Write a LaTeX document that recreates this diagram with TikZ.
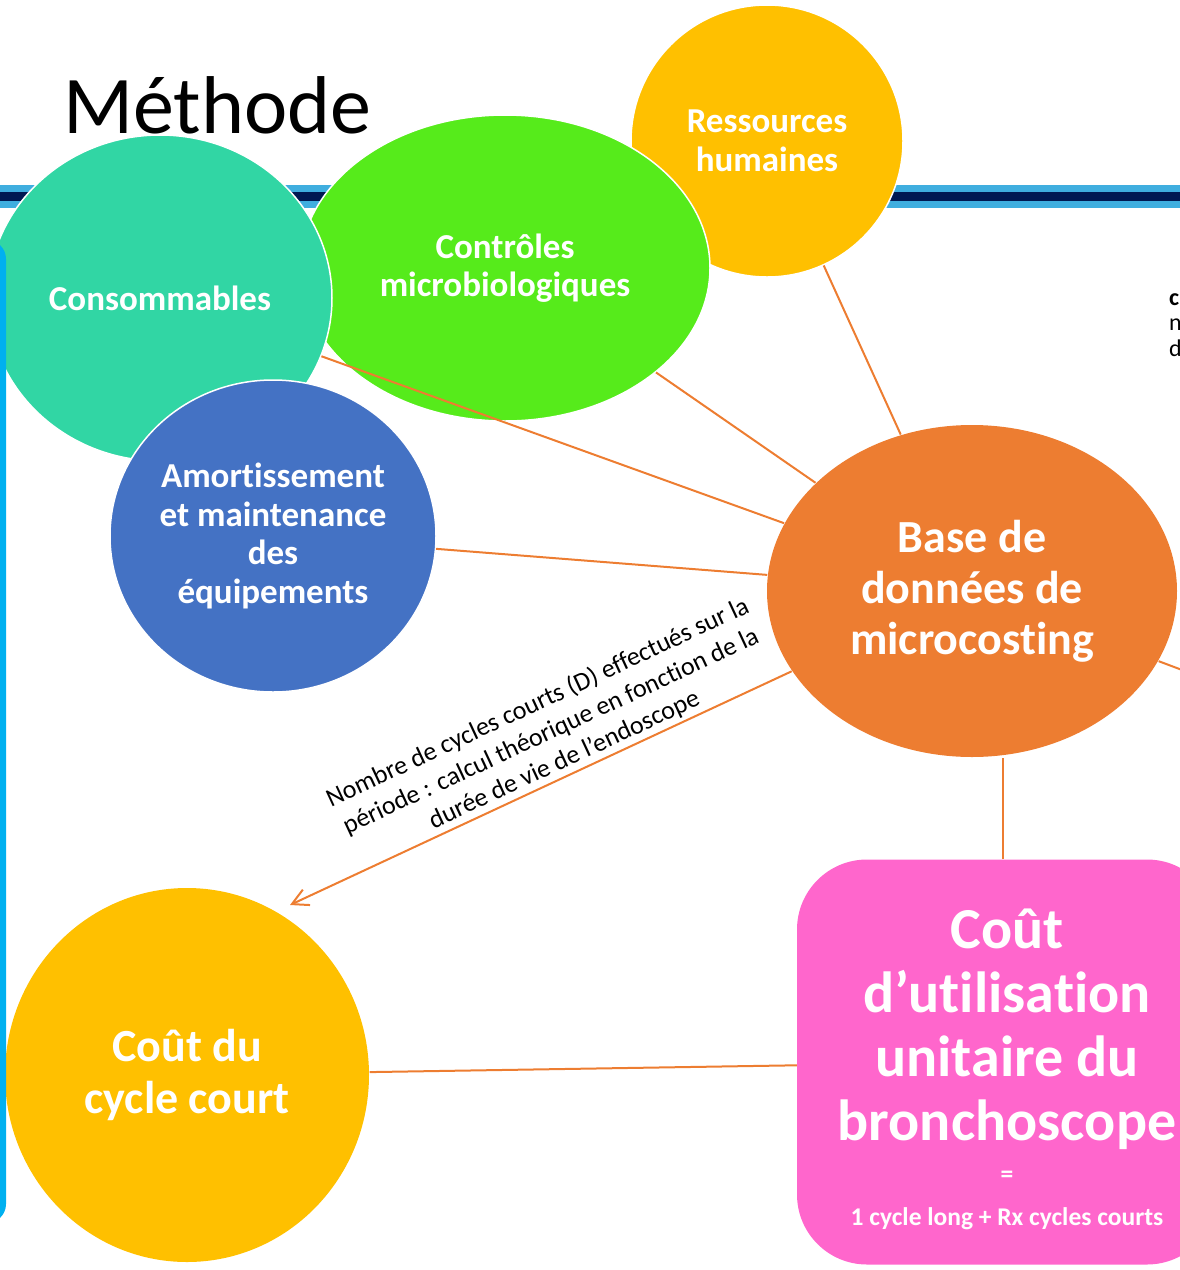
\documentclass[tikz,border=0pt]{standalone}
\usepackage{fontspec}
\setmainfont{Carlito}[Ligatures={TeX,NoCommon,NoContextual,NoRequired},RawFeature={-calt}]
\usetikzlibrary{shapes.geometric,arrows.meta}

\definecolor{turquoise}{HTML}{31D6A4}
\definecolor{vert}{HTML}{56EB1B}
\definecolor{jaune}{HTML}{FFC000}
\definecolor{bleu}{HTML}{4472C4}
\definecolor{orangeB}{HTML}{ED7D31}
\definecolor{rose}{HTML}{FF66CC}
\definecolor{bleuclair}{HTML}{3FAEDF}
\definecolor{marine}{HTML}{001952}
\definecolor{bleuvif}{HTML}{00B0F0}

\begin{document}
\begin{tikzpicture}[x=1pt,y=-1pt,
    bulle/.style={ellipse,draw=white,line width=1.5pt,inner sep=0pt,text=white,align=center,
      font=\bfseries\fontsize{35}{38.5}\selectfont},
    lien/.style={draw=orangeB,line width=2pt}]

    \useasboundingbox (0,0) rectangle (1180,1270);
    \clip (0,0) rectangle (1180,1270);

    % bandeau
    \fill[bleuclair] (0,185) rectangle (1180,208);
    \fill[marine] (0,192) rectangle (1180,201);

    \node[anchor=base west,inner sep=0pt,font=\fontsize{82}{90}\selectfont] (titre) at (63,133) {Méthode};

    \node[bulle,fill=jaune,minimum width=272pt,minimum height=272pt] (rh) at (767,141) {Ressources\\humaines};
    \node[bulle,fill=vert,minimum width=410pt,minimum height=306pt] (ctrl) at (505,268) {Contrôles\\microbiologiques};
    \node[bulle,fill=turquoise,minimum width=344pt,minimum height=326pt] (conso) at (160,298) {Consommables};
    \node[bulle,fill=bleu,minimum width=326pt,minimum height=312pt] (amort) at (273,536) {Amortissement\\et maintenance\\des\\équipements};

    \node[bulle,draw=none,fill=orangeB,minimum width=410pt,minimum height=332pt,
      font=\bfseries\fontsize{46}{51}\selectfont] (bdd) at (972,591) {Base de\\données de\\microcosting};
    \node[bulle,draw=none,fill=jaune,minimum width=364pt,minimum height=374pt,
      font=\bfseries\fontsize{46}{52}\selectfont] (court) at (187,1075) {Coût du\\cycle court};
    \node[rectangle,rounded corners=70pt,fill=rose,minimum width=420pt,minimum height=405pt,
      text=white,align=center,font=\bfseries\fontsize{58}{64}\selectfont] (cout) at (1007,1062)
      {\rule{0pt}{55pt}Coût\\d’utilisation\\unitaire du\\bronchoscope\\[-22pt]{\fontsize{25.5}{26}\selectfont =}\\[-21pt]{\fontsize{25.5}{26}\selectfont 1 cycle long + Rx cycles courts}};

    \node[anchor=north west,align=left,inner sep=0pt,font=\fontsize{24}{25.5}\selectfont] (note) at (1169,293) {\textbf{c}\\n\\d};

    \coordinate (hors) at (1230,688);
    \coordinate (pointe) at (290,905);

    \draw[lien] (rh) -- (bdd);
    \draw[lien] (ctrl) -- (bdd);
    \draw[lien] (conso) -- (bdd);
    \draw[lien] (amort) -- (bdd);
    \draw[lien] (bdd) -- (hors);
    \draw[lien] ([xshift=-4pt]cout.north) -- ([xshift=-4pt]cout.north |- bdd.south);
    \draw[lien] (court) -- (cout);
    \draw[lien,-{Straight Barb[length=16pt,width=17pt]}] (bdd.204) -- (pointe)
      node[pos=0.44,sloped,above,align=center,inner sep=3pt,text=black,font=\fontsize{26}{31.5}\selectfont] (nb)
      {Nombre de cycles courts (D) effectués sur la\\période : calcul théorique en fonction de la\\durée de vie de l’endoscope};

    % cadre gauche
    \draw[bleuvif,line width=6pt,rounded corners=16pt] (-60,243) -- (3,243) -- (3,1220) -- (-60,1220);
\end{tikzpicture}
\end{document}
